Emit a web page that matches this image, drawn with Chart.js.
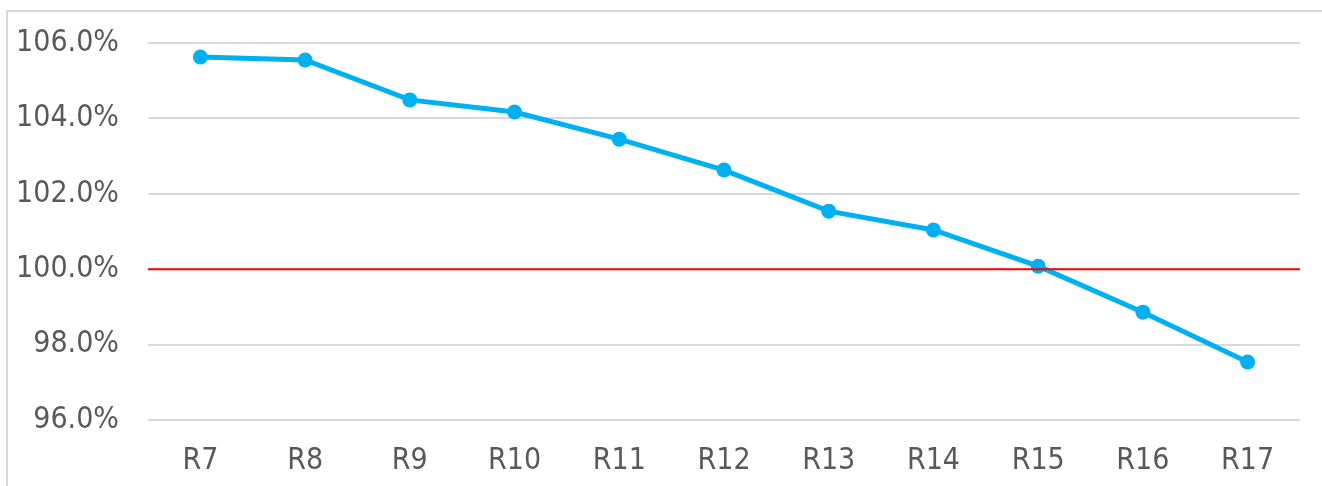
<!DOCTYPE html>
<html>
<head>
<meta charset="utf-8">
<script src="https://cdn.jsdelivr.net/npm/chart.js@4"></script>
<style>
  html, body { margin: 0; padding: 0; background: #fff; overflow: hidden; }
  .frame {
    position: absolute; left: 6px; top: 10px; width: 1330px; height: 474px;
    border-left: 2px solid #d9d9d9; border-top: 2px solid #d9d9d9;
  }
  .wrap { position: absolute; left: 0; top: 0; width: 1322px; height: 486px; }
</style>
</head>
<body>
<div class="frame"></div>
<div class="wrap"><canvas id="chart"></canvas></div>
<script>
const categories = ['R7', 'R8', 'R9', 'R10', 'R11', 'R12', 'R13', 'R14', 'R15', 'R16', 'R17'];
const ratio = [105.63, 105.55, 104.49, 104.17, 103.45, 102.63, 101.54, 101.04, 100.08, 98.86, 97.54];
const yTicks = [96, 98, 100, 102, 104, 106];
const refValue = 100;

const fontFamily = '"DejaVu Sans Condensed", "Liberation Sans", sans-serif';

// red reference line at 100%
const refLine = {
  id: 'refLine',
  afterDatasetsDraw(chart) {
    const { ctx, chartArea } = chart;
    const y = chart.scales.y.getPixelForValue(refValue);
    ctx.save();
    ctx.strokeStyle = '#ff0000';
    ctx.lineWidth = 2;
    ctx.beginPath();
    ctx.moveTo(chartArea.left, y);
    ctx.lineTo(chartArea.right, y);
    ctx.stroke();
    ctx.restore();
  },
};

new Chart(document.getElementById('chart'), {
  type: 'line',
  plugins: [refLine],
  data: {
    labels: categories,
    datasets: [{
      data: ratio,
      borderColor: '#00b0f0',
      backgroundColor: '#00b0f0',
      borderWidth: 5,
      pointRadius: 7.5,
      pointHoverRadius: 7.5,
      pointBorderWidth: 0,
      tension: 0,
    }],
  },
  options: {
    responsive: true,
    maintainAspectRatio: false,
    animation: false,
    layout: { padding: { top: 43, right: 22, bottom: 0, left: 0 } },
    plugins: {
      legend: { display: false },
      tooltip: { enabled: false },
    },
    scales: {
      x: {
        offset: true,
        grid: { display: false },
        border: { display: false },
        ticks: {
          color: '#595959',
          padding: 15,
          maxRotation: 0,
          font: { family: fontFamily, size: 30 },
        },
        afterFit(scale) {
          scale.height = 66;
          scale.paddingLeft = 0;
          scale.paddingRight = 0;
        },
      },
      y: {
        min: 96,
        max: 106,
        afterBuildTicks(scale) { scale.ticks = yTicks.map(v => ({ value: v })); },
        grid: { color: '#d9d9d9', lineWidth: 2, drawTicks: false },
        border: { display: false },
        ticks: {
          color: '#595959',
          padding: 29,
          font: { family: fontFamily, size: 30 },
          callback: v => v.toFixed(1) + '%',
        },
        afterFit(scale) {
          scale.width = 148;
          scale.paddingTop = 0;
          scale.paddingBottom = 0;
        },
      },
    },
  },
});
</script>
</body>
</html>
